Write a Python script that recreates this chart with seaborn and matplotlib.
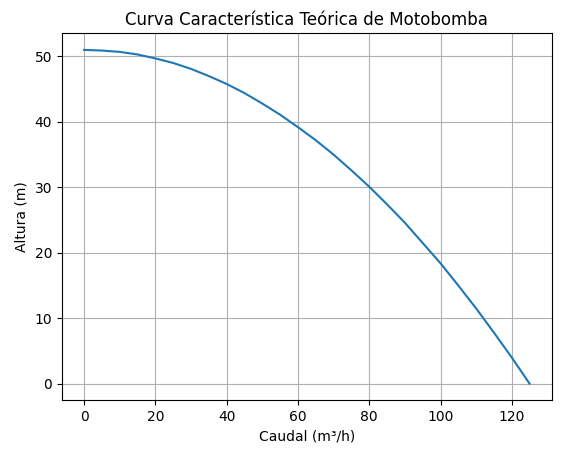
import matplotlib
matplotlib.use("Agg")
import matplotlib.pyplot as plt
import seaborn as sns
import pandas as pd

caudal = [0, 5, 10, 15, 20, 25, 30, 35, 40, 45, 50, 55, 60, 65, 70, 75, 80, 85, 90, 95, 100, 105, 110, 115, 120, 125]
altura = [51.0, 50.9, 50.7, 50.3, 49.7, 49.0, 48.1, 47.0, 45.8, 44.4, 42.8, 41.1, 39.2, 37.2, 35.0, 32.6, 30.1, 27.4, 24.6, 21.5, 18.4, 15.0, 11.5, 7.8, 4.0, 0.0]

df = pd.DataFrame({"Caudal": caudal, "Altura": altura})

fig, ax = plt.subplots(figsize=(5.62, 4.55), dpi=100)
sns.lineplot(data=df, x="Caudal", y="Altura", ax=ax, color="#1f77b4")
ax.set_title("Curva Característica Teórica de Motobomba")
ax.set_xlabel("Caudal (m³/h)")
ax.set_ylabel("Altura (m)")
ax.grid(True)
fig.subplots_adjust(left=0.11, right=0.982, bottom=0.12, top=0.927)
fig.savefig("out.png", dpi=100)
